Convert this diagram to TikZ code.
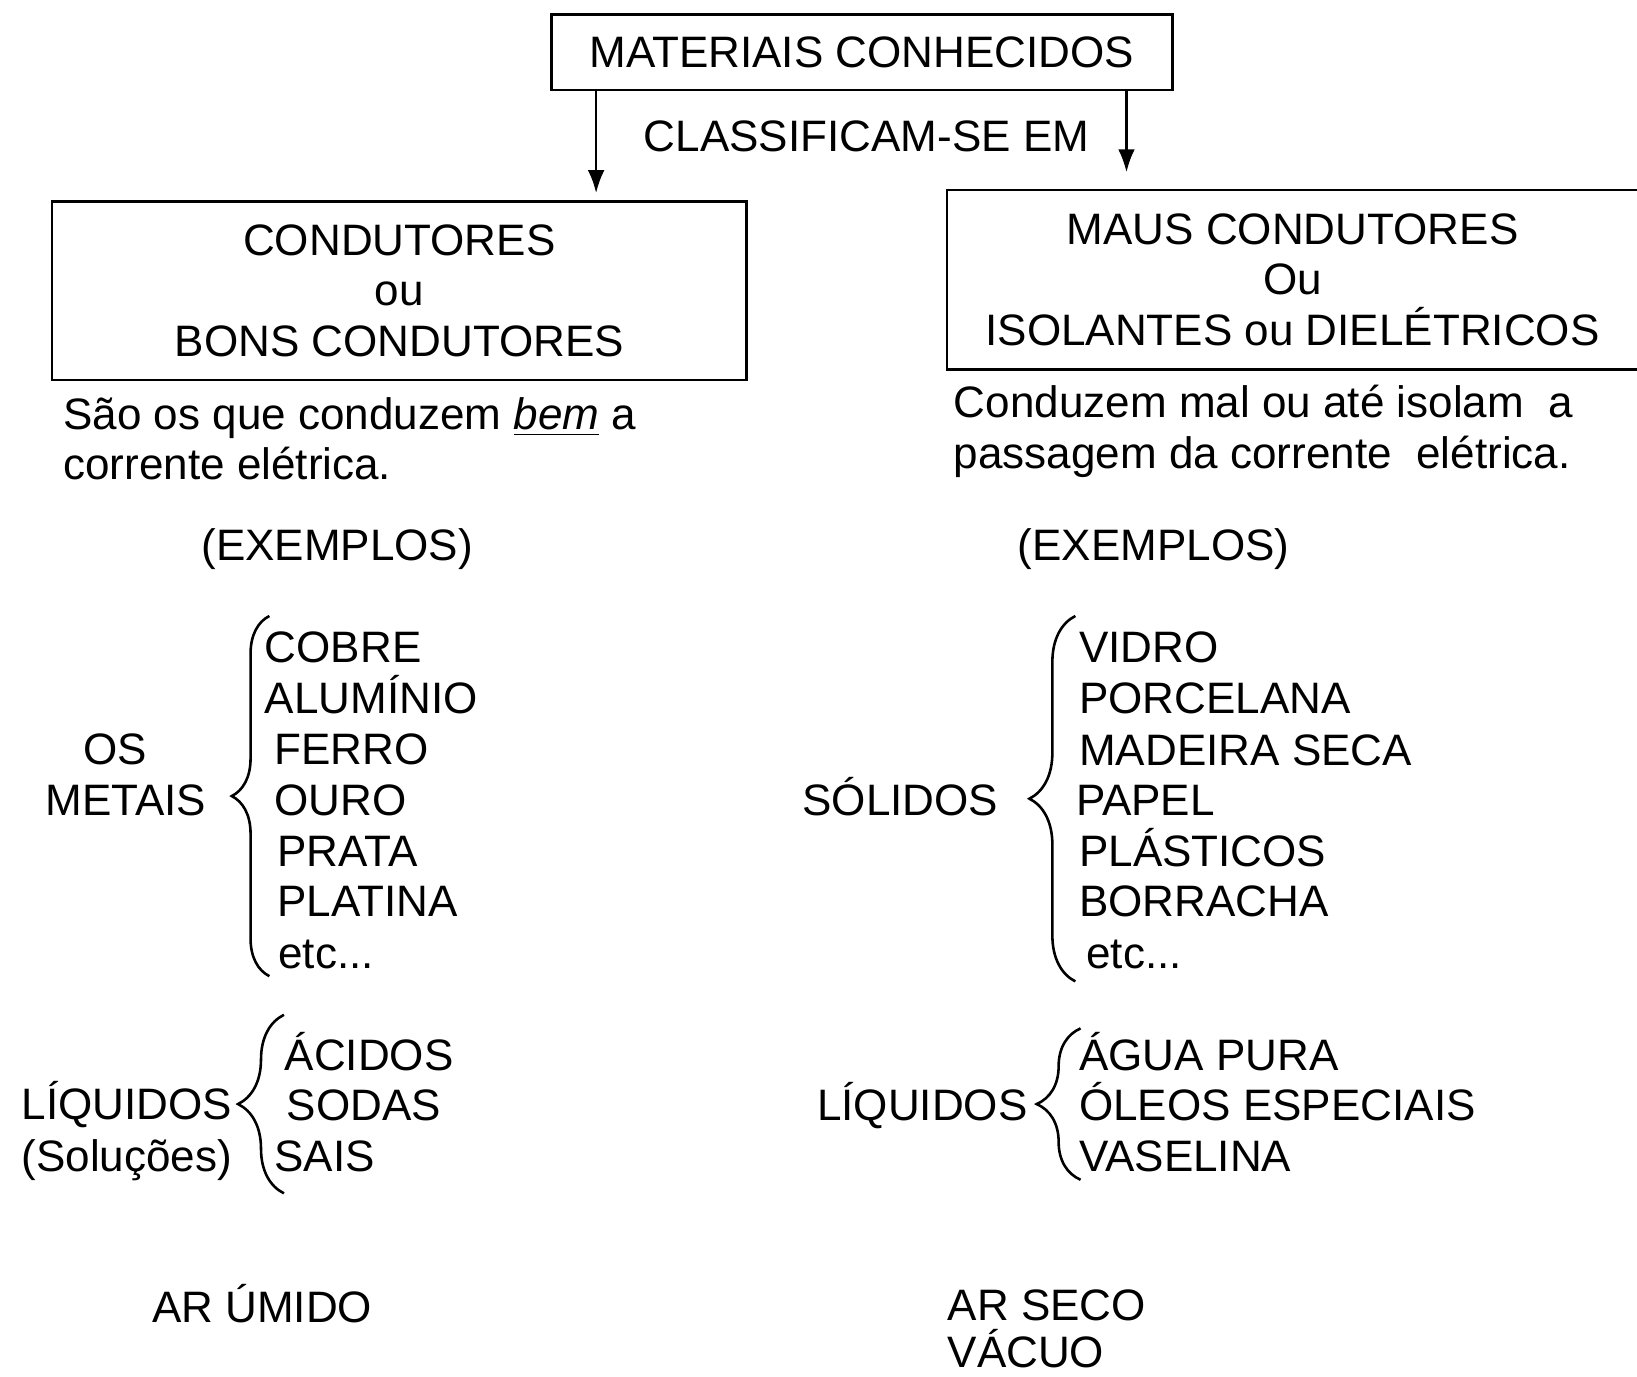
\documentclass[tikz,border=0pt]{standalone}
\usepackage{fontspec}
\setmainfont{Liberation Sans}
\usetikzlibrary{arrows.meta,decorations.pathreplacing}
\begin{document}
\begin{tikzpicture}[font=\fontsize{12}{13.8}\selectfont,
		box/.style={draw,line width=0.7pt,align=center,inner sep=0pt},
		item/.style={anchor=base west,inner sep=0pt},
		lbl/.style={anchor=base,inner sep=0pt},
		arr/.style={line width=0.7pt,-{Latex[length=2.2mm,width=1.6mm]}},
		chave/.style={line width=0.7pt,decorate,decoration={brace,amplitude=#1}}]
		\useasboundingbox (0,0) rectangle (15.68,-13.18);
		\node[box,minimum width=5.95cm,minimum height=0.72cm] (top) at (8.255,-0.50) {MATERIAIS CONHECIDOS};
		\node[box,minimum width=6.65cm,minimum height=1.71cm] (bons) at (3.825,-2.785) {CONDUTORES\\ou\\BONS CONDUTORES};
		\node[box,minimum width=6.62cm,minimum height=1.72cm] (maus) at (12.38,-2.68) {MAUS CONDUTORES\\Ou\\ISOLANTES ou DIELÉTRICOS};
		\coordinate (tipL) at (5.71,-1.85);
		\coordinate (tipR) at (10.79,-1.65);
		\draw[arr] (top.south -| tipL) -- (tipL);
		\draw[arr] (top.south -| tipR) -- (tipR);
		\node[lbl] (classif) at (8.30,-1.45) {CLASSIFICAM-SE EM};
		\node[item] (descL1) at (0.60,-4.11) {São os que conduzem \underline{\textit{bem}} a};
		\node[item] (descL2) at (0.60,-4.59) {corrente elétrica.};
		\node[item] (descR1) at (9.13,-4.00) {Conduzem mal ou até isolam\ \ a};
		\node[item] (descR2) at (9.13,-4.49) {passagem da corrente\ \ elétrica.};
		\node[lbl] (exL) at (3.23,-5.37) {(EXEMPLOS)};
		\node[lbl] (exR) at (11.05,-5.37) {(EXEMPLOS)};
		\node[lbl] (os) at (1.10,-7.32) {OS};
		\node[item] (metais) at (0.43,-7.81) {METAIS};
		\draw[chave=0.36cm] (2.58,-9.35) -- (2.58,-5.90);
		\node[item] (cobre) at (2.53,-6.35) {COBRE};
		\node[item] (aluminio) at (2.53,-6.83) {ALUMÍNIO};
		\node[item] (ferro) at (2.62,-7.32) {FERRO};
		\node[item] (ouro) at (2.62,-7.81) {OURO};
		\node[item] (prata) at (2.65,-8.30) {PRATA};
		\node[item] (platina) at (2.65,-8.78) {PLATINA};
		\node[item] (etcL) at (2.66,-9.28) {etc...};
		\node[item] (liqL) at (0.20,-10.72) {LÍQUIDOS};
		\node[item] (solucoes) at (0.20,-11.22) {(Soluções)};
		\draw[chave=0.44cm] (2.72,-11.43) -- (2.72,-9.72);
		\node[item] (acidos) at (2.72,-10.25) {ÁCIDOS};
		\node[item] (sodas) at (2.74,-10.73) {SODAS};
		\node[item] (sais) at (2.62,-11.22) {SAIS};
		\node[item] (arumido) at (1.45,-12.67) {AR ÚMIDO};
		\node[item] (solidos) at (7.68,-7.81) {SÓLIDOS};
		\draw[chave=0.44cm] (10.30,-9.40) -- (10.30,-5.90);
		\node[item] (vidro) at (10.33,-6.35) {VIDRO};
		\node[item] (porcelana) at (10.33,-6.83) {PORCELANA};
		\node[item] (madeira) at (10.33,-7.33) {MADEIRA SECA};
		\node[item] (papel) at (10.30,-7.81) {PAPEL};
		\node[item] (plasticos) at (10.33,-8.30) {PLÁSTICOS};
		\node[item] (borracha) at (10.33,-8.78) {BORRACHA};
		\node[item] (etcR) at (10.40,-9.28) {etc...};
		\node[item] (liqR) at (7.82,-10.73) {LÍQUIDOS};
		\draw[chave=0.42cm] (10.35,-11.30) -- (10.35,-9.85);
		\node[item] (agua) at (10.33,-10.25) {ÁGUA PURA};
		\node[item] (oleos) at (10.33,-10.73) {ÓLEOS ESPECIAIS};
		\node[item] (vaselina) at (10.33,-11.22) {VASELINA};
		\node[item] (arseco) at (9.07,-12.65) {AR SECO};
		\node[item] (vacuo) at (9.07,-13.10) {VÁCUO};
	\end{tikzpicture}
\end{document}
